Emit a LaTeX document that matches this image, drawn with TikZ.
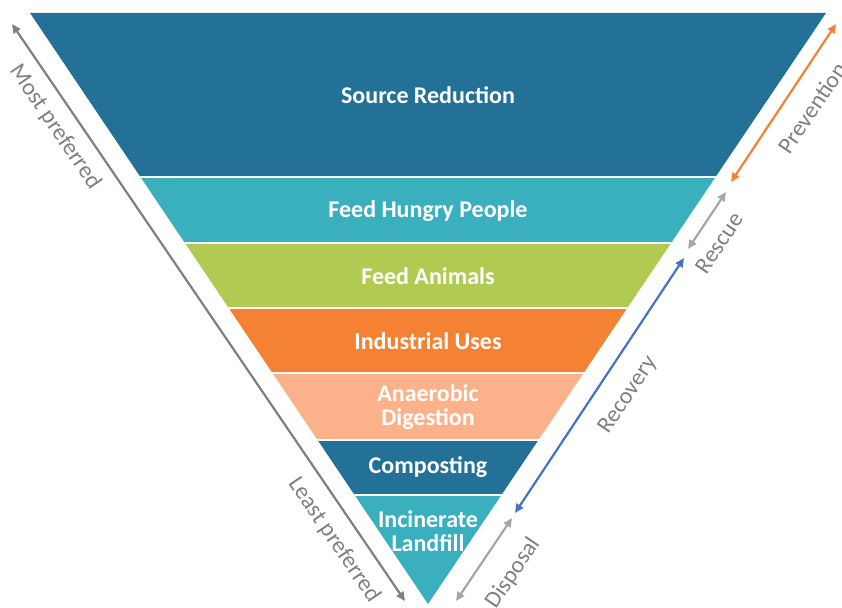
\documentclass[tikz,border=0pt]{standalone}
\usepackage{fontspec}
\setmainfont{Carlito}
\usetikzlibrary{arrows.meta,calc}
\definecolor{cdark}{HTML}{237196}
\definecolor{cteal}{HTML}{3AB0BE}
\definecolor{cgreen}{HTML}{B1CB52}
\definecolor{corange}{HTML}{F58233}
\definecolor{cpeach}{HTML}{FBB18A}
\definecolor{cgray}{HTML}{7F7F7F}
\definecolor{cblue}{HTML}{4472C4}
\definecolor{carrowgray}{HTML}{A6A6A6}
\begin{document}
\begin{tikzpicture}[x=1pt,y=-1pt,
  bandtext/.style={text=white,font=\bfseries\fontsize{24}{24}\selectfont,align=center},
  sidelabel/.style={text=cgray,font=\fontsize{23.5}{24}\selectfont},
  dblarrow/.style={line width=2.2pt,{Triangle[length=9pt,width=8pt]}-{Triangle[length=9pt,width=8pt]}}]
\useasboundingbox (0,0) rectangle (842,607);
\coordinate (TL) at (30,13);
\coordinate (TR) at (826,13);
\coordinate (A) at (428,604);
\begin{scope}
\clip (TL) -- (TR) -- (A) -- cycle;
\fill[cdark]  (0,0) rectangle (842,177);
\fill[cteal]  (0,177) rectangle (842,243);
\fill[cgreen] (0,243) rectangle (842,308);
\fill[corange](0,308) rectangle (842,373);
\fill[cpeach] (0,373) rectangle (842,440);
\fill[cdark]  (0,440) rectangle (842,495);
\fill[cteal]  (0,495) rectangle (842,607);
\foreach \yy in {177,243,308,373,440,495}
  \draw[white,line width=1.5pt] (0,\yy) -- (842,\yy);
\end{scope}
\node[bandtext] (b1) at (428,95) {Source Reduction};
\node[bandtext] (b2) at (428,211) {Feed Hungry People};
\node[bandtext] (b3) at (428,276) {Feed Animals};
\node[bandtext] (b4) at (428,341) {Industrial Uses};
\node[bandtext] (b5) at (428,407) {Anaerobic\\Digestion};
\node[bandtext] (b6) at (428,467) {Composting};
\node[bandtext] (b7) at (428,531) {Incinerate\\Landfill};
% left arrow
\coordinate (L1) at (12,24);
\coordinate (L2) at (405,601);
\draw[cgray,dblarrow] (L1) -- (L2);
\node[sidelabel,rotate=-55.7] (mp) at (55,127) {Most preferred};
\node[sidelabel,rotate=-55.7] (lp) at (334,540) {Least preferred};
% right arrows
\coordinate (R1) at (836,24);
\coordinate (R2) at (731,182);
\coordinate (R3) at (726,192);
\coordinate (R4) at (688,249);
\coordinate (R5) at (684,258);
\coordinate (R6) at (515,513);
\coordinate (R7) at (512,518);
\coordinate (R8) at (456,601);
\draw[corange,dblarrow] (R1) -- (R2);
\draw[carrowgray,dblarrow] (R3) -- (R4);
\draw[cblue,dblarrow] (R5) -- (R6);
\draw[carrowgray,dblarrow] (R7) -- (R8);
\node[sidelabel,rotate=56] (pv) at (812,108) {Prevention};
\node[sidelabel,rotate=56] (rs) at (719,243) {Rescue};
\node[sidelabel,rotate=56] (rc) at (628,395) {Recovery};
\node[sidelabel,rotate=56] (dp) at (513,573) {Disposal};
\end{tikzpicture}
\end{document}
